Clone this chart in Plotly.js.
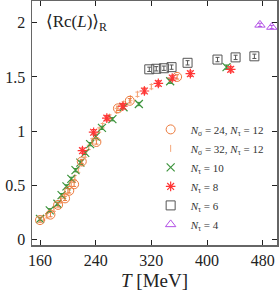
<!DOCTYPE html>
<html>
<head>
<meta charset="utf-8">
<script src="https://cdn.plot.ly/plotly-3.0.1.min.js"></script>
<style>html,body{margin:0;padding:0;background:#fff;}#plot{width:279px;height:293px;}</style>
</head>
<body>
<div id="plot"></div>
<script>
// Nsigma=24, Ntau=12
const T_s24 = [160,175,186,196,202,209,220,241,272,289,357];
const L_s24 = [0.18,0.23,0.32,0.38,0.45,0.51,0.72,0.90,1.21,1.28,1.50];
const E_s24 = [0.02,0.02,0.02,0.02,0.02,0.02,0.02,0.02,0.02,0.02,0.02];
// Nsigma=32, Ntau=12
const T_s32 = [165,170,180,190,195,200,205,210,215,220,225,230,235,240,245,250,260,270,280,290,300,310,320,330];
const L_s32 = [0.20,0.22,0.28,0.36,0.40,0.45,0.51,0.57,0.64,0.71,0.78,0.85,0.91,0.96,1.01,1.05,1.13,1.19,1.25,1.30,1.34,1.38,1.41,1.44];
const E_s32 = [0.02,0.02,0.02,0.02,0.02,0.02,0.02,0.02,0.02,0.02,0.02,0.02,0.02,0.02,0.02,0.02,0.02,0.02,0.02,0.02,0.02,0.02,0.02,0.02];
// Ntau=10
const T_t10 = [160,174,185,191,198,205,211,218,225,232,240,249,264,280,302,347,428];
const L_t10 = [0.19,0.27,0.33,0.41,0.49,0.56,0.64,0.71,0.80,0.88,0.95,1.03,1.11,1.22,1.25,1.46,1.59];
const E_t10 = [0.015,0.015,0.015,0.015,0.015,0.015,0.015,0.015,0.015,0.015,0.015,0.015,0.015,0.015,0.015,0.02,0.02];
// Ntau=8
const T_t8 = [221,237,256,279,310,330,350,376,434];
const L_t8 = [0.82,0.99,1.12,1.23,1.37,1.44,1.49,1.53,1.57];
const E_t8 = [0.025,0.025,0.025,0.025,0.025,0.025,0.025,0.025,0.025];
// Ntau=6
const T_t6 = [317,327,338,349,372,415,441,468];
const L_t6 = [1.57,1.575,1.58,1.59,1.63,1.66,1.68,1.69];
const E_t6 = [0.02,0.02,0.02,0.02,0.02,0.02,0.02,0.02];
// Ntau=4
const T_t4 = [476,493];
const L_t4 = [1.98,1.96];
const E_t4 = [0.015,0.015];

const xTicks = [160,240,320,400,480];
const yTicks = [0,0.5,1,1.5,2];
const yTickText = ['0','0.5','1','1.5','2'];

const names = [
  '<i>N</i><sub>σ</sub> = 24, <i>N</i><sub>τ</sub> = 12',
  '<i>N</i><sub>σ</sub> = 32, <i>N</i><sub>τ</sub> = 12',
  '<i>N</i><sub>τ</sub> = 10',
  '<i>N</i><sub>τ</sub> = 8',
  '<i>N</i><sub>τ</sub> = 6',
  '<i>N</i><sub>τ</sub> = 4'
];

function tr(x, y, e, name, color, symbol, size, lw) {
  return {
    x: x, y: y, name: name, type: 'scatter', mode: 'markers',
    marker: {symbol: symbol, size: size, color: color, line: {color: color, width: lw}},
    error_y: {type: 'data', array: e, visible: true, color: color, thickness: 1, width: 2},
    hoverinfo: 'skip'
  };
}

const data = [
  tr(T_s32, L_s32, E_s32, names[1], '#f5a77a', 'line-ns-open', 5, 1),
  tr(T_t10, L_t10, E_t10, names[2], '#3d943d', 'x-thin-open', 8, 1.2),
  tr(T_s24, L_s24, E_s24, names[0], '#ec7a3c', 'circle-open', 9, 1),
  tr(T_t8, L_t8, E_t8, names[3], '#ff3535', 'asterisk-open', 8, 1.2),
  tr(T_t6, L_t6, E_t6, names[4], '#555555', 'square-open', 9, 1),
  tr(T_t4, L_t4, E_t4, names[5], '#b350e6', 'triangle-up-open', 9, 1)
];
data[0].legendrank = 2; data[1].legendrank = 3; data[2].legendrank = 1;
data[3].legendrank = 4; data[4].legendrank = 5; data[5].legendrank = 6;

const axisCommon = {
  showgrid: false, zeroline: false, showline: true, linecolor: '#666', linewidth: 1.5,
  mirror: 'ticks', ticks: 'inside', ticklen: 5, tickcolor: '#222', tickwidth: 1,
  tickfont: {family: 'Liberation Serif, DejaVu Serif, serif', size: 16, color: '#222'}
};

const layout = {
  width: 279, height: 293,
  margin: {l: 32, r: 2, t: 1, b: 48},
  paper_bgcolor: '#fff', plot_bgcolor: '#fff',
  showlegend: true,
  xaxis: Object.assign({}, axisCommon, {
    range: [148.5, 500.5], tickvals: xTicks, ticktext: xTicks.map(String),
    title: {text: '<i>T</i> [MeV]', font: {family: 'Liberation Serif, DejaVu Serif, serif', size: 19, color: '#222'}, standoff: 6}
  }),
  yaxis: Object.assign({}, axisCommon, {
    range: [-0.05, 2.2], tickvals: yTicks, ticktext: yTickText, ticklabelstandoff: 2
  }),
  legend: {
    x: 0.97, xanchor: 'right', y: 0.025, yanchor: 'bottom',
    bgcolor: 'rgba(0,0,0,0)', borderwidth: 0,
    font: {family: 'Liberation Serif, DejaVu Serif, serif', size: 11, color: '#333'},
    tracegroupgap: 0, itemwidth: 30
  },
  annotations: [{
    xref: 'paper', yref: 'paper', x: 0.05, y: 0.965, xanchor: 'left', yanchor: 'top',
    text: '⟨Rc(<i>L</i>)⟩<sub>R</sub>', showarrow: false,
    font: {family: 'Liberation Serif, DejaVu Serif, serif', size: 17, color: '#222'}
  }]
};

Plotly.newPlot('plot', data, layout, {displayModeBar: false, staticPlot: true});
</script>
</body>
</html>
